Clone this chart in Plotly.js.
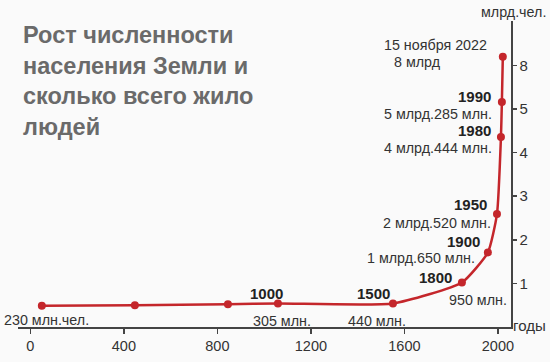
<!DOCTYPE html>
<html><head><meta charset="utf-8">
<script src="https://cdn.plot.ly/plotly-3.0.1.min.js"></script>
<style>html,body{margin:0;padding:0;background:#fafafa;}#chart{width:550px;height:362px;}</style>
</head><body><div id="chart"></div>
<script>
// plotted positions of the points (stylized axis as in the picture)
const xPos = [49, 447, 845, 1059, 1551, 1846, 1957, 1996, 2013, 2017, 2021];
const yPos = [0.49, 0.50, 0.52, 0.54, 0.54, 1.02, 1.71, 2.59, 4.36, 5.16, 6.2];
const xTickVals = [0, 400, 800, 1200, 1600, 2000];
const yTickVals = [1, 2, 3, 4, 5, 6];
const yTickText = ['1', '2', '3', '4', '5', '8'];
const yearLabels = ['1000', '1500', '1800', '1900', '1950', '1980', '1990'];
const popLabels = ['230 млн.чел.', '305 млн.', '440 млн.', '950 млн.', '1 млрд.650 млн.', '2 млрд.520 млн.', '4 млрд.444 млн.', '5 млрд.285 млн.'];
const topLabels = ['15 ноября 2022', '8 млрд'];
const titleText = 'Рост численности<br>населения Земли и<br>сколько всего жило<br>людей';

const L = 18, T = 21, W = 493, H = 306;
const px = x => (x - L) / W;
const py = y => (T + H - y) / H;
const red = '#c4262b';
const txt = '#333333';
const font = 'Liberation Sans, Arial, sans-serif';

const yearPos = [[266,293],[373,293],[435,277],[463,241],[470,204],[474,130],[474,96]];
const popPos = [[46,320],[282,321],[377,321],[478,300],[421,258],[437,223],[438,148],[438,114]];
const topPos = [[435,45],[417,62]];

const ann = [];
ann.push({xref:'paper', yref:'paper', x:px(21), y:py(20), xanchor:'left', yanchor:'top', align:'left',
  text:'<b>'+titleText+'</b>', showarrow:false, font:{family:font, size:23.5, color:'#6a6a6a'}});
yearLabels.forEach((t,i)=>ann.push({xref:'paper', yref:'paper', x:px(yearPos[i][0]), y:py(yearPos[i][1]),
  xanchor:'center', yanchor:'middle', borderpad:0, text:'<b>'+t+'</b>', showarrow:false, font:{family:font, size:15, color:'#222'}}));
popLabels.forEach((t,i)=>ann.push({xref:'paper', yref:'paper', x:px(popPos[i][0]), y:py(popPos[i][1]),
  xanchor:'center', yanchor:'middle', borderpad:0, text:t, showarrow:false, font:{family:font, size:14.3, color:txt}}));
topLabels.forEach((t,i)=>ann.push({xref:'paper', yref:'paper', x:px(topPos[i][0]), y:py(topPos[i][1]),
  xanchor:'center', yanchor:'middle', borderpad:0, text:t, showarrow:false, font:{family:font, size:14.3, color:txt}}));
ann.push({xref:'paper', yref:'paper', x:px(513), y:py(12), xanchor:'center', yanchor:'middle', text:'млрд.чел.', showarrow:false, font:{family:font, size:14.3, color:txt}});
ann.push({xref:'paper', yref:'paper', x:px(529), y:py(325), xanchor:'center', yanchor:'middle', text:'годы', showarrow:false, font:{family:font, size:15, color:txt}});

const trace = {x:xPos, y:yPos, type:'scatter', mode:'lines+markers',
  line:{color:red, width:2.5, shape:'spline', smoothing:0.5},
  marker:{color:red, size:8}, hoverinfo:'skip'};

const layout = {
  width:550, height:362, margin:{l:L, r:550-L-W, t:T, b:362-T-H},
  paper_bgcolor:'#fafafa', plot_bgcolor:'#fafafa', showlegend:false,
  xaxis:{range:[-53, 2056], tickvals:xTickVals, ticks:'outside', ticklen:5, tickcolor:'#444', tickwidth:1.5,
    showline:true, linecolor:'#444', linewidth:1.5, showgrid:false, zeroline:false,
    tickfont:{family:font, size:14.5, color:txt}},
  yaxis:{range:[0, 7.02], side:'right', tickvals:yTickVals, ticktext:yTickText, ticks:'outside', ticklen:4,
    tickcolor:'#444', tickwidth:1.5, showline:true, linecolor:'#444', linewidth:1.5, showgrid:false, zeroline:false,
    tickfont:{family:font, size:15, color:txt}},
  annotations:ann
};
Plotly.newPlot('chart', [trace], layout, {staticPlot:true});
</script></body></html>
